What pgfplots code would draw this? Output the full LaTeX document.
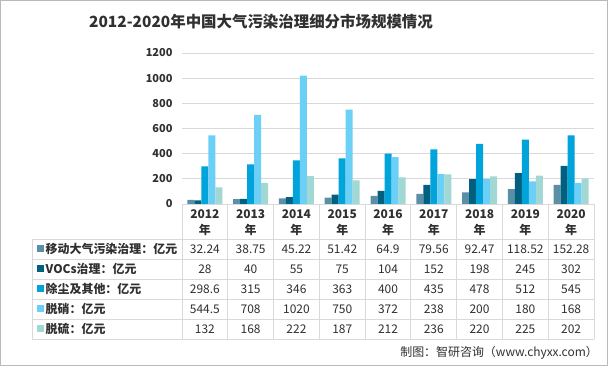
\documentclass[border=0pt]{standalone}
\usepackage{pgfplots}
\pgfplotsset{compat=1.18}
\usepackage{pgfplotstable}
\usepackage{fontspec}
\setmainfont{Noto Sans CJK SC}
\definecolor{cA}{HTML}{5B8FA6}
\definecolor{cB}{HTML}{01607F}
\definecolor{cC}{HTML}{00A3DA}
\definecolor{cD}{HTML}{6BCFF6}
\definecolor{cE}{HTML}{A2D8D3}
\definecolor{gridc}{HTML}{D9D9D9}
\definecolor{txt}{HTML}{303030}
\pgfplotstableread{
x a b c d e
0 32.24 28 298.6 544.5 132
1 38.75 40 315 708 168
2 45.22 55 346 1020 222
3 51.42 75 363 750 187
4 64.9 104 400 372 212
5 79.56 152 435 238 236
6 92.47 198 478 200 220
7 118.52 245 512 180 225
8 152.28 302 545 168 202
}\datatable
\begin{document}
\begin{tikzpicture}
\useasboundingbox (0,0) rectangle (608bp,366bp);
\fill[white] (0,0) rectangle (608bp,366bp);
\draw[gray!55] (0.5bp,0.5bp) rectangle (607.5bp,365.5bp);
\node[font=\fontsize{15.5}{17}\selectfont\bfseries, text=txt] at (261bp,344bp) {2012-2020年中国大气污染治理细分市场规模情况};
\begin{axis}[at={(182bp,162bp)}, anchor=south west, scale only axis,
  width=412bp, height=151bp,
  xmin=-0.5, xmax=8.5, ymin=0, ymax=1200,
  ytick={0,200,...,1200}, xtick=\empty,
  ybar=0pt, bar width=7bp,
  axis line style={draw=none}, major tick length=0pt,
  ymajorgrids, grid style={gridc, line width=0.8pt},
  /pgf/number format/assume math mode=true,
  /pgf/number format/set thousands separator={},
  yticklabel style={font=\fontsize{11}{13}\selectfont\bfseries, text=txt, xshift=-6bp},
  clip=false]
\addplot[fill=cA, draw=none] table[x=x, y=a]{\datatable};
\addplot[fill=cB, draw=none] table[x=x, y=b]{\datatable};
\addplot[fill=cC, draw=none] table[x=x, y=c]{\datatable};
\addplot[fill=cD, draw=none] table[x=x, y=d]{\datatable};
\addplot[fill=cE, draw=none] table[x=x, y=e]{\datatable};
\end{axis}
% table grid
\begin{scope}[draw=gridc, line width=0.8pt]
\draw (182bp,162bp) -- (594bp,162bp);
\foreach \yy in {127,107,87,67,47,27} \draw (32bp,\yy bp) -- (594bp,\yy bp);
\draw (32bp,127bp) -- (32bp,27bp);
\foreach \i in {0,...,9} {
  \pgfmathsetmacro{\xx}{182+45.778*\i}
  \draw (\xx bp,162bp) -- (\xx bp,27bp);
}
\end{scope}
% header
\foreach \i/\yr in {0/2012,1/2013,2/2014,3/2015,4/2016,5/2017,6/2018,7/2019,8/2020} {
  \pgfmathsetmacro{\xx}{182+45.778*(\i+0.5)}
  \node[font=\fontsize{12}{14}\selectfont\bfseries, text=txt] at (\xx bp,152bp) {\yr};
  \node[font=\fontsize{12}{14}\selectfont\bfseries, text=txt] at (\xx bp,136bp) {年};
}
% rows
\foreach \k/\lab/\col/\yc in {a/移动大气污染治理：亿元/cA/117, b/VOCs治理：亿元/cB/97, c/除尘及其他：亿元/cC/77, d/脱硝：亿元/cD/57, e/脱硫：亿元/cE/37} {
  \fill[\col] (36.5bp,\yc bp-3.5bp) rectangle (43.5bp,\yc bp+3.5bp);
  \node[anchor=west, font=\fontsize{12}{14}\selectfont\bfseries, text=txt, inner sep=0pt] at (45.5bp,\yc bp) {\lab};
  \foreach \i in {0,...,8} {
    \pgfmathsetmacro{\xx}{182+45.778*(\i+0.5)}
    \pgfplotstablegetelem{\i}{\k}\of\datatable
    \node[font=\fontsize{12}{14}\selectfont, text=txt] at (\xx bp,\yc bp) {\pgfplotsretval};
  }
}
\node[anchor=east, font=\fontsize{12}{14}\selectfont, text=txt, inner sep=0pt] at (598bp,13bp) {制图：智研咨询（www.chyxx.com）};
\end{tikzpicture}
\end{document}
